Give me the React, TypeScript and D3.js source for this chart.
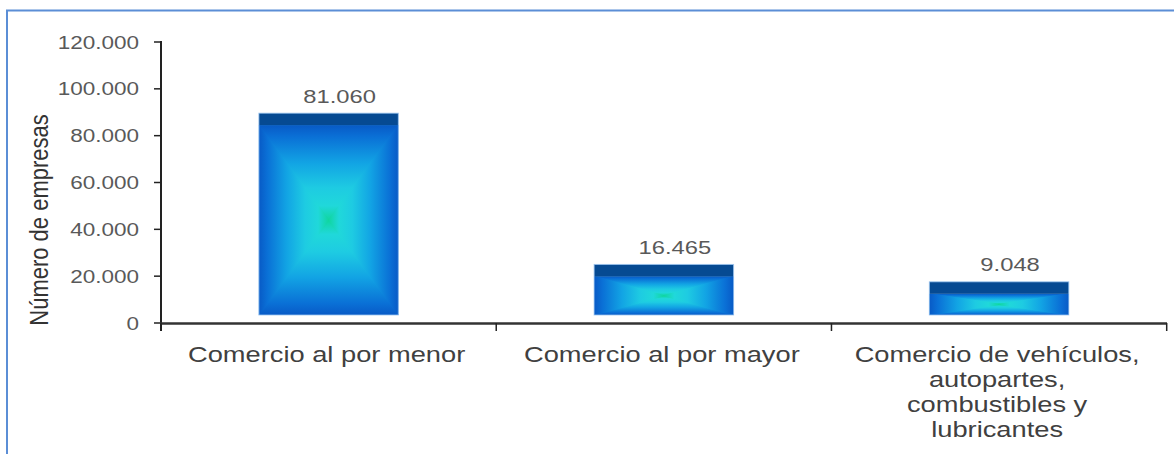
import React from "react";
import * as d3 from "d3";

const categories = ["menor", "mayor", "vehiculos"];
const categoryLines: string[][] = [
  ["Comercio al por menor"],
  ["Comercio al por mayor"],
  ["Comercio de vehículos,", "autopartes,", "combustibles y", "lubricantes"],
];
const values = [81060, 16465, 9048];
const yTicks = [0, 20000, 40000, 60000, 80000, 100000, 120000];
const yTitle = "Número de empresas";

const locale = d3.formatLocale({ decimal: ",", thousands: ".", grouping: [3], currency: ["$", ""] });
const fmt = locale.format(",");

const W = 1174;
const H = 454;
const FONT = "'Liberation Sans', Arial, sans-serif";

export default function App() {
  const y = d3.scaleLinear().domain([0, 120000]).range([323, 42]);
  const x = d3.scaleBand<string>().domain(categories).range([161, 1166.7]).paddingInner(0).paddingOuter(0);
  const band = x.bandwidth();
  const barW = band * 0.416;
  const depth = 8;
  const capH = 12;
  const floor = y(0) - depth;

  const stops = [
    [0, "#085ac6"],
    [0.12, "#0a70d6"],
    [0.4, "#12a4e4"],
    [0.66, "#1ecbe2"],
    [0.85, "#20d8da"],
    [1, "#10d6a0"],
  ];
  const grads = [
    { id: "gT", x1: 0, y1: 0, x2: 0, y2: 1 },
    { id: "gB", x1: 0, y1: 1, x2: 0, y2: 0 },
    { id: "gL", x1: 0, y1: 0, x2: 1, y2: 0 },
    { id: "gR", x1: 1, y1: 0, x2: 0, y2: 0 },
  ];

  const boundaries = [...categories.map((c) => x(c) as number), 1166.7];

  return (
    <svg width={W} height={H} style={{ position: "fixed", left: 0, top: 0, background: "#fff" }}>
      <defs>
        {grads.map((g) => (
          <linearGradient key={g.id} id={g.id} x1={g.x1} y1={g.y1} x2={g.x2} y2={g.y2}>
            {stops.map(([o, c]) => (
              <stop key={String(o)} offset={o as number} stopColor={c as string} />
            ))}
          </linearGradient>
        ))}
      </defs>
      <rect x={7} y={10.5} width={1300} height={600} fill="none" stroke="#5b8ed6" strokeWidth={2} />

      {/* y title */}
      <text
        transform="translate(48,220) scale(1.15,1) rotate(-90)"
        textAnchor="middle"
        fontFamily={FONT}
        fontSize={22}
        fill="#333"
      >
        {yTitle}
      </text>

      {/* y ticks */}
      {yTicks.map((t) => (
        <g key={t}>
          <line x1={154} x2={161} y1={y(t)} y2={y(t)} stroke="#222" strokeWidth={1.5} />
          <text
            transform={`translate(139,${y(t) + 6.5}) scale(1.25,1)`}
            textAnchor="end"
            fontFamily={FONT}
            fontSize={18}
            fill="#595959"
          >
            {fmt(t)}
          </text>
        </g>
      ))}

      {/* bars */}
      {categories.map((c, i) => {
        const cx = (x(c) as number) + band / 2;
        const x0 = cx - barW / 2;
        const x1 = cx + barW / 2;
        const top = y(values[i]) - depth;
        const cy = (top + floor) / 2;
        const capTop = top - capH;
        const tris = [
          { g: "gT", p: `${x0},${top} ${x1},${top} ${cx},${cy}` },
          { g: "gB", p: `${x0},${floor} ${x1},${floor} ${cx},${cy}` },
          { g: "gL", p: `${x0},${top} ${x0},${floor} ${cx},${cy}` },
          { g: "gR", p: `${x1},${top} ${x1},${floor} ${cx},${cy}` },
        ];
        return (
          <g key={c}>
            <clipPath id={`clip${i}`}>
              <rect x={x0} y={top} width={barW} height={floor - top} />
            </clipPath>
            <rect x={x0} y={top} width={barW} height={floor - top} fill="#0c86dc" />
            <g clipPath={`url(#clip${i})`}>
              {tris.map((t) => (
                <polygon
                  key={t.g}
                  points={t.p}
                  fill={`url(#${t.g})`}
                  stroke={`url(#${t.g})`}
                  strokeWidth={1.2}
                  strokeLinejoin="round"
                />
              ))}
            </g>
            <rect x={x0} y={capTop} width={barW} height={capH} fill="#064a92" />
            <rect
              x={x0}
              y={capTop}
              width={barW}
              height={floor - capTop}
              fill="none"
              stroke="#9cc6f0"
              strokeWidth={1}
              opacity={0.8}
            />
            <text
              transform={`translate(${cx + 11},${capTop - 10.5}) scale(1.25,1)`}
              textAnchor="middle"
              fontFamily={FONT}
              fontSize={19}
              fill="#595959"
            >
              {fmt(values[i])}
            </text>
          </g>
        );
      })}

      {/* axes */}
      <line x1={161} x2={161} y1={41} y2={331} stroke="#222" strokeWidth={2} />
      <line x1={160} x2={1167} y1={323.5} y2={323.5} stroke="#333" strokeWidth={2.5} />
      {boundaries.map((b, i) => (
        <line key={i} x1={b} x2={b} y1={323} y2={331} stroke="#222" strokeWidth={1.5} />
      ))}

      {/* category labels */}
      {categories.map((c, i) => {
        const cx = (x(c) as number) + band / 2;
        return (
          <g key={c}>
            {categoryLines[i].map((ln, j) => (
              <text
                key={j}
                transform={`translate(${cx - 2},${362 + j * 25}) scale(1.24,1)`}
                textAnchor="middle"
                fontFamily={FONT}
                fontSize={22}
                fill="#404040"
              >
                {ln}
              </text>
            ))}
          </g>
        );
      })}
    </svg>
  );
}
